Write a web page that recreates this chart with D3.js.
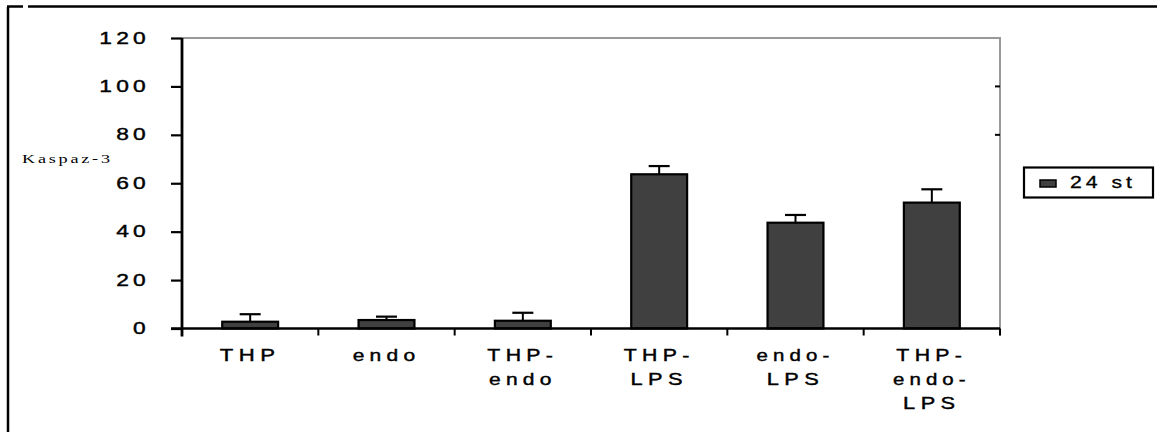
<!DOCTYPE html>
<html>
<head>
<meta charset="utf-8">
<script src="https://cdn.jsdelivr.net/npm/d3@7"></script>
<style>
  html, body { margin: 0; padding: 0; background: #fff; }
  svg { display: block; }
</style>
</head>
<body>
<svg id="chart" width="1157" height="432"></svg>
<script>
// Caspase-3 activity, 24 h
const categories = [["THP"], ["endo"], ["THP-", "endo"], ["THP-", "LPS"], ["endo-", "LPS"], ["THP-", "endo-", "LPS"]];
const values = [2.8, 3.5, 3.2, 63.7, 43.7, 52.0];
const errors = [3.1, 1.4, 3.3, 3.4, 3.2, 5.5];
const yTicks = [0, 20, 40, 60, 80, 100, 120];
const seriesName = "24 st";
const yLabel = "Kaspaz-3";

(function () {
  const svg = d3.select("#chart");
  const W = 1157, H = 432;
  const mLeft = 182, mRight = 1000, mTop = 38, mBottom = 328.5;
  const barFill = "#404040";
  const SANS = "'Liberation Sans', Arial, sans-serif";
  const SERIF = "'Liberation Serif', 'Times New Roman', serif";
  const STRETCH = 1.9;

  // Wide, letter-spaced text: measure the plain run, then add spacing and
  // widen the whole run to k times its plain width
  function stretch(sel, k, spacing) {
    sel.each(function () {
      const t = d3.select(this);
      const w = this.getComputedTextLength();
      t.attr("letter-spacing", spacing)
       .attr("textLength", w * k).attr("lengthAdjust", "spacingAndGlyphs");
    });
  }

  const x = d3.scaleBand().domain(d3.range(categories.length)).range([mLeft, mRight]).padding(0);
  const y = d3.scaleLinear().domain([0, 120]).range([mBottom, mTop]);
  const barW = x.bandwidth() * 0.41;
  const cx = i => x(i) + x.bandwidth() / 2;

  // outer page frame (top and left rules)
  svg.append("line").attr("x1", 8).attr("x2", 8).attr("y1", 7).attr("y2", H)
    .attr("stroke", "#000").attr("stroke-width", 2.5);
  svg.append("line").attr("x1", 7).attr("x2", 23).attr("y1", 6.5).attr("y2", 6.5)
    .attr("stroke", "#000").attr("stroke-width", 2.5);
  svg.append("line").attr("x1", 28).attr("x2", W).attr("y1", 6.5).attr("y2", 6.5)
    .attr("stroke", "#000").attr("stroke-width", 2.5);

  // plot-area frame: grey top and right edges
  svg.append("path")
    .attr("d", `M${mLeft},${mTop}H${mRight}V${mBottom + 7}`)
    .attr("fill", "none").attr("stroke", "#999").attr("stroke-width", 2);

  // small tick marks on the right edge
  svg.selectAll(".rtick").data([100, 80]).join("line")
    .attr("x1", mRight - 5).attr("x2", mRight).attr("y1", d => y(d)).attr("y2", d => y(d))
    .attr("stroke", "#000").attr("stroke-width", 2);

  // bars
  svg.selectAll(".bar").data(values).join("rect")
    .attr("x", (d, i) => cx(i) - barW / 2)
    .attr("y", d => y(d))
    .attr("width", barW)
    .attr("height", d => y(0) - y(d))
    .attr("fill", barFill).attr("stroke", "#000").attr("stroke-width", 2.2);

  // upper error bars
  const cap = 21;
  const eb = svg.selectAll(".err").data(values).join("g");
  eb.append("line")
    .attr("x1", (d, i) => cx(i)).attr("x2", (d, i) => cx(i))
    .attr("y1", d => y(d)).attr("y2", (d, i) => y(d + errors[i]))
    .attr("stroke", "#000").attr("stroke-width", 2);
  eb.append("line")
    .attr("x1", (d, i) => cx(i) - cap / 2).attr("x2", (d, i) => cx(i) + cap / 2)
    .attr("y1", (d, i) => y(d + errors[i])).attr("y2", (d, i) => y(d + errors[i]))
    .attr("stroke", "#000").attr("stroke-width", 2.2);

  // y axis
  const yAxis = svg.append("g").attr("transform", `translate(${mLeft},0)`)
    .call(d3.axisLeft(y).tickValues(yTicks).tickSize(11).tickPadding(21));
  yAxis.select(".domain").attr("d", `M0,${mTop}V${mBottom + 8}`).attr("stroke-width", 2.8);
  yAxis.selectAll(".tick line").attr("stroke-width", 2.2);
  yAxis.selectAll(".tick text")
    .attr("font-family", SANS).attr("font-size", 16).attr("fill", "#000")
    .attr("stroke", "#000").attr("stroke-width", 0.4)
    .attr("dy", 5).call(stretch, STRETCH, 3);

  // x axis: baseline with ticks at category boundaries
  svg.append("line").attr("x1", mLeft - 11).attr("x2", mRight).attr("y1", mBottom).attr("y2", mBottom)
    .attr("stroke", "#000").attr("stroke-width", 2.5);
  const bounds = d3.range(1, categories.length + 1).map(i => mLeft + i * x.step());
  svg.selectAll(".xtick").data(bounds).join("line")
    .attr("x1", d => d).attr("x2", d => d).attr("y1", mBottom).attr("y2", mBottom + 7)
    .attr("stroke", "#000").attr("stroke-width", 2);

  // category labels
  svg.selectAll(".cat").data(categories).join("g").each(function (lines, i) {
    const g = d3.select(this);
    lines.forEach((t, j) => {
      g.append("text")
        .attr("x", cx(i))
        .attr("y", 361 + j * 24)
        .attr("text-anchor", "middle")
        .attr("font-family", SANS).attr("font-size", 16)
        .attr("stroke", "#000").attr("stroke-width", 0.4)
        .text(t).call(stretch, STRETCH, 4);
    });
  });

  // y label
  svg.append("text").attr("x", 22).attr("y", 163)
    .attr("font-family", SERIF).attr("font-size", 13)
    .text(yLabel).call(stretch, 1.85, 2);

  // legend
  const lg = svg.append("g");
  lg.append("rect").attr("x", 1024).attr("y", 167.5).attr("width", 129).attr("height", 30)
    .attr("fill", "#fff").attr("stroke", "#000").attr("stroke-width", 2.2);
  lg.append("rect").attr("x", 1040).attr("y", 180).attr("width", 16).attr("height", 7)
    .attr("fill", barFill).attr("stroke", "#000").attr("stroke-width", 1.5);
  lg.append("text").attr("x", 1070).attr("y", 188)
    .attr("font-family", SANS).attr("font-size", 16)
    .attr("stroke", "#000").attr("stroke-width", 0.3)
    .text(seriesName).call(stretch, STRETCH, 3);
})();
</script>
</body>
</html>
